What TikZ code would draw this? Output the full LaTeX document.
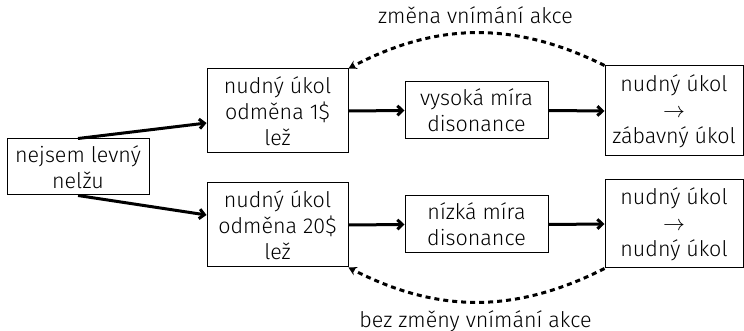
\documentclass[tikz,border=0pt]{standalone}
\usepackage{fontspec}
\IfFontExistsTF{Fira Sans Book}{\setmainfont{Fira Sans Book}}{\IfFontExistsTF{Fira Sans Light}{\setmainfont{Fira Sans Light}}{\setmainfont{Fira Sans}}}
\usetikzlibrary{arrows.meta}
\begin{document}
\begin{tikzpicture}[x=0.5pt,y=-0.5pt,
  box/.style={draw, line width=0.5pt, align=center, inner sep=0pt, font=\fontsize{10.75}{13}\selectfont},
  flow/.style={line width=1.5pt, -{Straight Barb[length=2.5pt,width=4.8pt]}},
  loopback/.style={line width=1.5pt, dash pattern=on 2.5pt off 2pt, -{Stealth[length=4pt,width=4.5pt]}},
  lbl/.style={font=\fontsize{10.75}{13}\selectfont, inner sep=0pt}]
\useasboundingbox (0,0) rectangle (744,331);
\node[box, minimum width=71pt, minimum height=28pt] (nej) at (78,167) {nejsem levný\\nelžu};
\node[box, minimum width=70.5pt, minimum height=42pt] (b1) at (277.5,111) {nudný úkol\\odměna 1\$\\lež};
\node[box, minimum width=70.5pt, minimum height=42pt] (b2) at (277.5,225) {nudný úkol\\odměna 20\$\\lež};
\node[box, minimum width=71.5pt, minimum height=28.5pt] (m1) at (476.5,110.5) {vysoká míra\\disonance};
\node[box, minimum width=71.5pt, minimum height=28.5pt] (m2) at (476.5,224.5) {nízká míra\\disonance};
\node[box, minimum width=69pt, minimum height=45pt] (r1) at (674,111) {nudný úkol\\$\rightarrow$\\zábavný úkol};
\node[box, minimum width=69pt, minimum height=44pt] (r2) at (674,224) {nudný úkol\\$\rightarrow$\\nudný úkol};
\draw[flow] (nej.north) -- ([yshift=-6pt]b1.west);
\draw[flow] (nej.south) -- ([yshift=5pt]b2.west);
\draw[flow] (b1.east) -- (m1.west);
\draw[flow] (m1.east) -- (r1.west);
\draw[flow] (b2.east) -- (m2.west);
\draw[flow] (m2.east) -- (r2.west);
\draw[loopback] (r1.north west) to[bend right=27] (b1.north east);
\draw[loopback] (r2.south west) to[bend left=27] (b2.south east);
\node[lbl] (t1) at (475.5,15) {změna vnímání akce};
\node[lbl] (t2) at (475.5,321) {bez změny vnímání akce};
\end{tikzpicture}
\end{document}
